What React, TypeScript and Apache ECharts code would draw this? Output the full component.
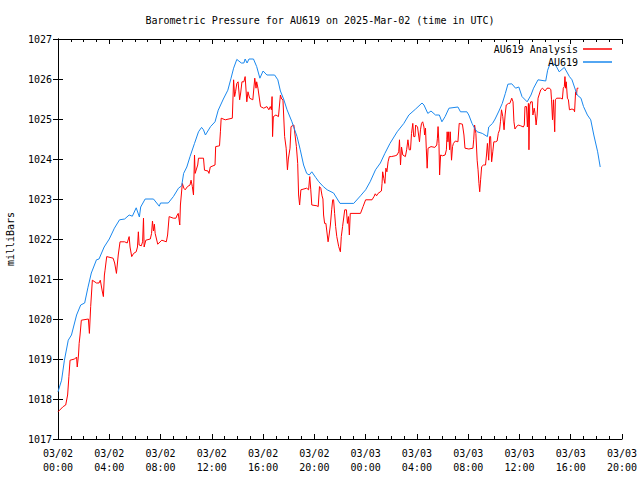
import React, { useEffect, useRef } from "react";
import * as echarts from "echarts";

const TITLE = "Barometric Pressure for AU619 on 2025-Mar-02 (time in UTC)";
const Y_NAME = "milliBars";
const SERIES_NAMES = ["AU619 Analysis", "AU619"];
const DAY_LABELS = ["03/02", "03/03"];

// hours since 2025-03-02 00:00 UTC, pressure in mb
const analysisData: [number, number][] = [
  [0, 1017.68], [0.4, 1017.81], [0.6, 1017.85], [0.75, 1018.1], [0.85, 1018.56], [0.94, 1018.97], [1.3, 1019.0], [1.45, 1019.05], [1.5, 1018.8], [1.6, 1019.1], [1.65, 1019.39], [1.72, 1019.6], [1.82, 1019.97], [2.37, 1020.0], [2.45, 1019.64], [2.55, 1020.31], [2.68, 1020.97], [3.0, 1020.9], [3.2, 1020.9], [3.3, 1020.97], [3.45, 1020.7], [3.54, 1020.56], [3.62, 1021.1], [3.67, 1021.22], [3.8, 1021.56], [4.3, 1021.52], [4.42, 1021.4], [4.56, 1021.14], [4.7, 1021.6], [4.84, 1021.93], [5.2, 1021.93], [5.4, 1021.9], [5.55, 1022.06], [5.62, 1021.8], [5.75, 1021.56], [5.9, 1021.64], [6.1, 1021.68], [6.2, 1021.8], [6.27, 1022.18], [6.33, 1021.85], [6.5, 1021.83], [6.6, 1021.93], [6.67, 1022.52], [6.72, 1021.8], [6.85, 1021.97], [7.2, 1022.0], [7.3, 1022.14], [7.37, 1022.45], [7.45, 1022.2], [7.52, 1022.37], [7.58, 1022.14], [7.78, 1021.87], [8.1, 1021.97], [8.45, 1021.93], [8.55, 1022.1], [8.67, 1022.56], [9.0, 1022.52], [9.2, 1022.52], [9.3, 1022.6], [9.38, 1022.64], [9.5, 1022.35], [9.55, 1022.85], [9.7, 1023.39], [9.82, 1023.27], [9.92, 1023.23], [10.1, 1023.31], [10.3, 1023.35], [10.38, 1023.47], [10.48, 1023.31], [10.57, 1023.1], [10.65, 1024.1], [10.7, 1023.64], [10.9, 1023.85], [10.96, 1024.02], [11.35, 1024.02], [11.43, 1023.72], [11.7, 1023.7], [11.78, 1023.64], [11.88, 1023.8], [12.25, 1023.85], [12.3, 1024.31], [12.6, 1024.33], [12.67, 1024.68], [12.73, 1025.02], [13.05, 1024.98], [13.6, 1025.02], [13.7, 1025.98], [13.78, 1025.56], [13.85, 1025.68], [13.95, 1025.89], [14.05, 1025.93], [14.17, 1025.48], [14.25, 1025.65], [14.35, 1025.93], [14.5, 1025.93], [14.6, 1026.06], [14.73, 1025.43], [14.82, 1025.68], [14.95, 1025.52], [15.2, 1025.48], [15.35, 1026.02], [15.45, 1025.77], [15.5, 1025.93], [15.6, 1025.77], [15.8, 1025.31], [16.05, 1025.27], [16.3, 1025.31], [16.45, 1025.23], [16.56, 1025.31], [16.65, 1025.23], [16.7, 1025.56], [16.74, 1024.56], [16.8, 1025.06], [17.0, 1025.1], [17.2, 1025.06], [17.35, 1025.6], [17.45, 1025.5], [17.55, 1025.48], [17.68, 1024.56], [17.8, 1024.27], [17.9, 1023.73], [17.97, 1024.0], [18.1, 1024.27], [18.18, 1024.81], [18.4, 1024.85], [18.6, 1024.31], [18.7, 1023.89], [18.77, 1023.1], [18.85, 1022.85], [18.95, 1023.23], [19.4, 1023.27], [19.55, 1023.23], [19.64, 1023.56], [19.72, 1023.23], [19.8, 1022.85], [20.2, 1022.83], [20.3, 1022.81], [20.4, 1023.31], [20.5, 1023.27], [20.6, 1023.08], [20.67, 1023.0], [20.72, 1022.6], [20.8, 1022.39], [20.9, 1022.39], [21.07, 1021.93], [21.15, 1022.1], [21.25, 1022.35], [21.35, 1022.73], [21.43, 1022.98], [21.5, 1022.98], [21.58, 1022.64], [21.66, 1022.31], [21.75, 1022.06], [21.9, 1021.81], [22.03, 1021.68], [22.1, 1022.06], [22.2, 1022.31], [22.37, 1022.73], [22.5, 1022.73], [22.58, 1022.39], [22.66, 1022.56], [22.73, 1022.1], [22.8, 1022.64], [23.6, 1022.64], [23.8, 1022.81], [24.0, 1022.98], [24.5, 1022.98], [24.65, 1023.06], [24.75, 1023.13], [24.85, 1023.08], [24.97, 1023.14], [25.23, 1023.2], [25.28, 1023.39], [25.33, 1023.68], [25.42, 1023.51], [25.5, 1023.39], [25.58, 1023.77], [25.66, 1023.68], [25.75, 1023.93], [25.85, 1024.06], [26.0, 1024.06], [26.3, 1024.08], [26.45, 1024.1], [26.58, 1024.18], [26.64, 1024.48], [26.72, 1023.85], [26.8, 1024.3], [26.9, 1024.1], [27.1, 1024.06], [27.2, 1024.23], [27.3, 1024.48], [27.4, 1024.23], [27.5, 1024.23], [27.58, 1024.64], [27.68, 1024.89], [27.75, 1024.56], [27.85, 1024.56], [27.9, 1024.85], [28.05, 1024.8], [28.2, 1024.43], [28.28, 1024.73], [28.36, 1024.89], [28.45, 1024.93], [28.55, 1024.8], [28.6, 1024.6], [28.67, 1024.77], [28.73, 1024.27], [28.8, 1023.77], [28.87, 1024.27], [29.1, 1024.31], [29.4, 1024.29], [29.55, 1024.35], [29.6, 1024.52], [29.65, 1024.81], [29.72, 1024.39], [29.77, 1023.6], [29.85, 1024.1], [30.0, 1024.08], [30.2, 1024.1], [30.3, 1024.23], [30.33, 1024.48], [30.36, 1024.68], [30.42, 1024.43], [30.48, 1024.68], [30.55, 1024.23], [30.6, 1024.68], [30.7, 1023.97], [30.78, 1024.31], [30.85, 1024.39], [31.0, 1024.45], [31.2, 1024.43], [31.3, 1024.89], [31.55, 1024.87], [31.67, 1024.6], [31.75, 1024.27], [32.05, 1024.25], [32.37, 1024.27], [32.43, 1024.48], [32.5, 1024.85], [32.6, 1024.64], [32.7, 1023.97], [32.77, 1023.73], [32.84, 1023.39], [32.9, 1023.18], [32.97, 1023.48], [33.05, 1023.81], [33.2, 1023.85], [33.35, 1023.85], [33.43, 1024.1], [33.5, 1024.39], [33.6, 1023.97], [33.68, 1024.56], [33.75, 1024.56], [33.83, 1023.93], [33.92, 1024.18], [34.0, 1024.43], [34.15, 1024.43], [34.26, 1024.45], [34.35, 1024.64], [34.45, 1024.73], [34.52, 1024.93], [34.6, 1025.23], [34.7, 1025.06], [34.8, 1024.73], [34.88, 1025.1], [34.97, 1025.35], [35.15, 1025.39], [35.25, 1025.39], [35.4, 1025.52], [35.5, 1025.43], [35.57, 1024.93], [35.65, 1024.75], [35.75, 1024.8], [35.9, 1024.85], [36.1, 1024.83], [36.3, 1024.8], [36.38, 1024.85], [36.43, 1025.31], [36.55, 1025.31], [36.62, 1024.8], [36.7, 1025.39], [36.74, 1024.23], [36.8, 1025.35], [36.88, 1025.43], [37.0, 1025.43], [37.05, 1025.1], [37.15, 1025.27], [37.22, 1025.14], [37.3, 1024.85], [37.38, 1025.1], [37.45, 1025.52], [37.66, 1025.73], [37.8, 1025.77], [38.0, 1025.7], [38.15, 1025.77], [38.35, 1025.77], [38.45, 1025.73], [38.5, 1025.48], [38.58, 1024.98], [38.65, 1025.48], [38.75, 1024.68], [38.8, 1025.48], [38.9, 1025.52], [39.2, 1025.52], [39.35, 1025.5], [39.42, 1025.77], [39.5, 1025.81], [39.55, 1026.06], [39.6, 1025.77], [39.65, 1025.93], [39.74, 1025.52], [39.82, 1025.48], [39.9, 1025.23], [40.1, 1025.25], [40.25, 1025.23], [40.3, 1025.18], [40.38, 1025.68], [40.45, 1025.6], [40.5, 1025.77], [40.6, 1025.77],
];

const stationData: [number, number][] = [
  [0, 1018.18], [0.28, 1018.47], [0.5, 1018.97], [0.8, 1019.47], [1.05, 1019.6], [1.45, 1020.1], [1.77, 1020.35], [2.08, 1020.4], [2.33, 1020.78], [2.6, 1021.15], [3.0, 1021.48], [3.2, 1021.5], [3.6, 1021.8], [4.0, 1022.0], [4.4, 1022.27], [4.8, 1022.48], [5.2, 1022.5], [5.55, 1022.6], [5.8, 1022.57], [6.1, 1022.78], [6.35, 1022.55], [6.45, 1022.8], [6.8, 1023.0], [7.45, 1023.0], [7.7, 1022.9], [7.9, 1022.82], [8.0, 1022.9], [8.6, 1022.9], [9.0, 1023.06], [9.4, 1023.27], [9.65, 1023.33], [9.8, 1023.64], [10.05, 1023.8], [10.3, 1024.06], [10.65, 1024.39], [10.96, 1024.68], [11.2, 1024.79], [11.35, 1024.73], [11.5, 1024.6], [11.9, 1024.81], [12.25, 1024.93], [12.5, 1025.22], [12.9, 1025.5], [13.25, 1025.72], [13.5, 1026.02], [13.7, 1026.27], [13.95, 1026.49], [14.3, 1026.4], [14.5, 1026.4], [14.6, 1026.5], [14.75, 1026.4], [14.9, 1026.5], [15.25, 1026.5], [15.5, 1026.31], [15.75, 1026.02], [16.0, 1026.2], [16.3, 1026.1], [16.9, 1026.1], [17.15, 1025.98], [17.35, 1025.7], [17.6, 1025.5], [17.87, 1025.23], [18.25, 1024.93], [18.65, 1024.56], [18.9, 1024.23], [19.16, 1023.85], [19.4, 1023.64], [19.6, 1023.6], [19.8, 1023.68], [20.1, 1023.54], [20.35, 1023.43], [20.7, 1023.31], [21.0, 1023.23], [21.5, 1023.15], [22.0, 1022.89], [23.07, 1022.89], [23.6, 1023.08], [24.0, 1023.23], [24.35, 1023.43], [24.77, 1023.73], [25.15, 1023.9], [25.5, 1024.14], [25.9, 1024.39], [26.46, 1024.68], [26.98, 1024.89], [27.37, 1025.1], [27.9, 1025.25], [28.4, 1025.4], [28.55, 1025.35], [28.85, 1025.14], [29.1, 1025.2], [29.45, 1025.1], [29.75, 1025.1], [29.95, 1024.93], [30.2, 1025.06], [30.5, 1025.27], [31.2, 1025.3], [31.4, 1025.18], [31.9, 1025.18], [32.05, 1025.1], [32.3, 1024.89], [32.5, 1024.77], [32.7, 1024.68], [33.1, 1024.64], [33.5, 1024.56], [33.6, 1024.8], [33.9, 1024.89], [34.1, 1025.0], [34.4, 1025.2], [34.66, 1025.39], [34.9, 1025.64], [35.1, 1025.87], [35.4, 1025.88], [35.7, 1025.77], [35.95, 1025.8], [36.2, 1025.56], [36.6, 1025.43], [36.9, 1025.6], [37.1, 1025.77], [37.45, 1025.98], [38.05, 1025.95], [38.2, 1026.22], [38.4, 1026.39], [38.8, 1026.36], [39.1, 1026.18], [39.5, 1026.29], [39.9, 1026.06], [40.1, 1025.98], [40.5, 1025.6], [40.8, 1025.52], [41.0, 1025.31], [41.3, 1025.1], [41.56, 1024.98], [41.8, 1024.6], [42.1, 1024.18], [42.3, 1023.8],
];

const X_MIN = 0;
const X_MAX = 44;
const X_STEP = 4;
const Y_MIN = 1017;
const Y_MAX = 1027;
const Y_STEP = 1;

const FONT = "DejaVu Sans Mono";
const RED = "#ff0000";
const BLUE = "#1a88ee";

function xLabel(v: number): string {
  const day = Math.floor(v / 24);
  const hr = Math.round(v - day * 24);
  return DAY_LABELS[Math.min(day, DAY_LABELS.length - 1)] + "\n" + String(hr).padStart(2, "0") + ":00";
}

export default function App() {
  const ref = useRef<HTMLDivElement>(null);
  useEffect(() => {
    if (!ref.current) return;
    const chart = echarts.init(ref.current, undefined, { renderer: "svg" });
    const axisLine = { show: true, lineStyle: { color: "#000", width: 1 } };
    const tick = { show: true, inside: true, length: 5, lineStyle: { color: "#000", width: 1 } };
    const minor = { show: true, splitNumber: 4, length: 3, lineStyle: { color: "#000", width: 1 } };
    const xBase = { type: "value", min: X_MIN, max: X_MAX, interval: X_STEP, splitLine: { show: false }, axisLine, axisTick: tick, minorTick: minor };
    const yBase = { type: "value", min: Y_MIN, max: Y_MAX, interval: Y_STEP, splitLine: { show: false }, axisLine, axisTick: tick };
    chart.setOption({
      animation: false,
      backgroundColor: "#fff",
      title: {
        text: TITLE,
        left: "center",
        top: 10,
        textStyle: { fontFamily: FONT, fontSize: 10, fontWeight: "normal", color: "#000" },
      },
      legend: {
        data: SERIES_NAMES,
        orient: "vertical",
        right: 28,
        top: 44,
        padding: 0,
        align: "right",
        icon: "rect",
        itemWidth: 29,
        itemHeight: 1.5,
        itemGap: 3,
        textStyle: { fontFamily: FONT, fontSize: 10, color: "#000" },
      },
      grid: { left: 58, right: 18, top: 39, bottom: 41, show: false, containLabel: false, outerBoundsMode: "none" },
      xAxis: [
        {
          ...xBase,
          position: "bottom",
          axisLabel: { show: true, formatter: xLabel, fontFamily: FONT, fontSize: 10, color: "#000", margin: 7, lineHeight: 14, showMinLabel: true, showMaxLabel: true },
        },
        { ...xBase, position: "top", axisLabel: { show: false } },
      ],
      yAxis: [
        {
          ...yBase,
          position: "left",
          name: Y_NAME,
          nameLocation: "middle",
          nameGap: 43,
          nameTextStyle: { fontFamily: FONT, fontSize: 10, color: "#000" },
          axisLabel: { show: true, formatter: (v: number) => String(v), fontFamily: FONT, fontSize: 10, color: "#000", margin: 6 },
        },
        { ...yBase, position: "right", axisLabel: { show: false } },
      ],
      series: [
        {
          name: SERIES_NAMES[0],
          type: "line",
          data: analysisData,
          showSymbol: false,
          symbol: "none",
          lineStyle: { color: RED, width: 1 },
          itemStyle: { color: RED },
          xAxisIndex: 0,
          yAxisIndex: 0,
        },
        {
          name: SERIES_NAMES[1],
          type: "line",
          data: stationData,
          showSymbol: false,
          symbol: "none",
          lineStyle: { color: BLUE, width: 1 },
          itemStyle: { color: BLUE },
          xAxisIndex: 0,
          yAxisIndex: 0,
        },
      ],
    });
    return () => chart.dispose();
  }, []);
  return <div ref={ref} style={{ position: "fixed", left: 0, top: 0, width: 640, height: 480, background: "#fff" }} />;
}
